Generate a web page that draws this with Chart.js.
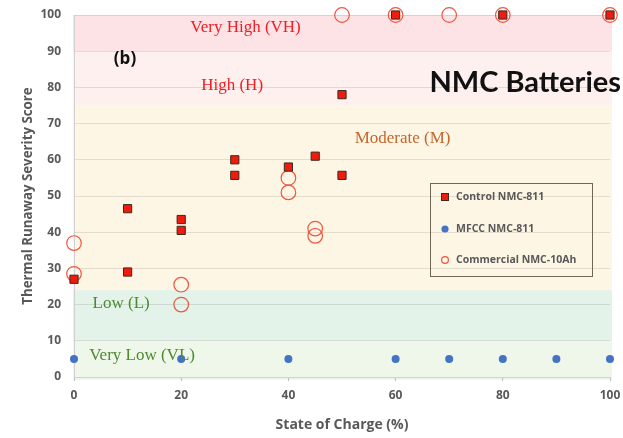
<!DOCTYPE html>
<html>
<head>
<meta charset="utf-8">
<script src="https://cdn.jsdelivr.net/npm/chart.js@4.4.0/dist/chart.umd.min.js"></script>
<style>
  html, body { margin: 0; padding: 0; background: #fff; }
  #wrap { width: 623px; height: 438px; position: relative; }
</style>
</head>
<body>
<div id="wrap"><canvas id="myChart" width="623" height="438"></canvas></div>
<script>
// data
const controlSoc   = [0, 10, 10, 20, 20, 30, 30, 40, 45, 50, 50, 60, 80, 100];
const controlScore = [27, 29, 46.5, 43.5, 40.5, 60, 55.7, 58, 61, 78, 55.7, 100, 100, 100];

const mfccSoc   = [0, 20, 40, 60, 70, 80, 90, 100];
const mfccScore = [5, 5, 5, 5, 5, 5, 5, 5];

const commSoc   = [0, 0, 20, 20, 40, 40, 45, 45, 50, 60, 70, 80, 100];
const commScore = [37, 28.5, 25.5, 20, 55, 51, 41, 39, 100, 100, 100, 100, 100];

const xTicks = [0, 20, 40, 60, 80, 100];
const yTicks = [0, 10, 20, 30, 40, 50, 60, 70, 80, 90, 100];

// severity bands: [from, to, fill, label, label color, label x (SOC), label y (score)]
const bands = [
  [90, 100, '#fde3e5', 'Very High (VH)', '#f21c24', 32, 96.5],
  [75, 90, '#fdf0ee', 'High (H)', '#f21c24', 29.5, 80.5],
  [24, 75, '#fef6e5', 'Moderate (M)', '#c4662c', 61.3, 66],
  [10, 24, '#e3f3e9', 'Low (L)', '#4e8a2f', 8.8, 20.3],
  [-1, 10, '#eef7ea', 'Very Low (VL)', '#4e8a2f', 12.7, 5.9]
];

const pts = (xs, ys) => xs.map((x, i) => ({ x: x, y: ys[i] }));

const bandPlugin = {
  id: 'bands',
  beforeDraw(chart) {
    const { ctx, chartArea, scales } = chart;
    ctx.save();
    bands.forEach(b => {
      const top = scales.y.getPixelForValue(b[1]);
      const bot = scales.y.getPixelForValue(Math.max(b[0], -0.8));
      ctx.fillStyle = b[2];
      ctx.fillRect(chartArea.left - 1, top, chartArea.right - chartArea.left + 3, bot - top);
    });
    ctx.restore();
  },
  afterDatasetsDraw(chart) {
    const { ctx, scales } = chart;
    ctx.save();
    ctx.textAlign = 'center';
    ctx.textBaseline = 'middle';
    ctx.font = '17px "Liberation Serif"';
    bands.forEach(b => {
      ctx.fillStyle = b[4];
      ctx.fillText(b[3], scales.x.getPixelForValue(b[5]), scales.y.getPixelForValue(b[6]));
    });
    // panel letter and title
    ctx.fillStyle = '#111';
    ctx.font = 'bold 17px "Open Sans"';
    ctx.fillText('(b)', 125, 59);
    ctx.font = 'bold 29px "Lato"';
    ctx.textAlign = 'right';
    ctx.fillText('NMC Batteries', 621, 83);

    // legend box
    ctx.strokeStyle = '#6e6658';
    ctx.lineWidth = 1;
    ctx.strokeRect(430.5, 183.5, 162, 93);
    ctx.font = 'bold 10.5px "Open Sans"';
    ctx.textAlign = 'left';
    ctx.fillStyle = '#595959';
    const rows = [197, 229, 260];
    const names = chart.data.datasets.map(d => d.label);
    names.forEach((n, i) => ctx.fillText(n, 456, rows[i]));
    // markers
    ctx.fillStyle = '#f01b0c';
    ctx.strokeStyle = '#3a2a22';
    ctx.fillRect(441.5, 193.5, 7, 7);
    ctx.strokeRect(441.5, 193.5, 7, 7);
    ctx.fillStyle = '#4472c4';
    ctx.beginPath(); ctx.arc(445, 229, 3.6, 0, Math.PI * 2); ctx.fill();
    ctx.strokeStyle = '#f0553f';
    ctx.lineWidth = 1.2;
    ctx.beginPath(); ctx.arc(445, 260, 3.4, 0, Math.PI * 2); ctx.stroke();
    ctx.restore();
  }
};

const ctx = document.getElementById('myChart').getContext('2d');
new Chart(ctx, {
  type: 'scatter',
  data: {
    datasets: [
      {
        label: 'Control NMC-811',
        data: pts(controlSoc, controlScore),
        pointStyle: 'rect',
        pointRadius: 5.8,
        backgroundColor: '#f01b0c',
        borderColor: '#3a2a22',
        borderWidth: 1,
        order: 1,
        clip: false
      },
      {
        label: 'MFCC NMC-811',
        data: pts(mfccSoc, mfccScore),
        pointRadius: 4,
        backgroundColor: '#4472c4',
        borderColor: '#4472c4',
        borderWidth: 0,
        order: 2,
        clip: false
      },
      {
        label: 'Commercial NMC-10Ah',
        data: pts(commSoc, commScore),
        pointRadius: 7.3,
        backgroundColor: 'rgba(0,0,0,0)',
        borderColor: '#f0553f',
        borderWidth: 1.2,
        order: 3,
        clip: false
      }
    ]
  },
  options: {
    responsive: false,
    animation: false,
    layout: { autoPadding: false, padding: { left: 20, right: 13, top: 15, bottom: 0 } },
    plugins: {
      legend: { display: false },
      tooltip: { enabled: false }
    },
    scales: {
      x: {
        type: 'linear',
        min: 0,
        max: 100,
        afterBuildTicks: s => { s.ticks = xTicks.map(v => ({ value: v })); },
        afterFit: s => { s.height = 61; s.paddingLeft = 0; s.paddingRight = 0; },
        grid: { display: true, drawOnChartArea: false, tickLength: 4, color: '#bfbfbf' },
        border: { display: true, color: '#d0d0d0' },
        ticks: { padding: 7, color: '#595959', font: { family: 'Open Sans', weight: 'bold', size: 12 } },
        title: {
          display: true,
          text: 'State of Charge (%)',
          color: '#595959',
          padding: { top: 0, bottom: 5 },
          font: { family: 'Open Sans', weight: 'bold', size: 14 }
        }
      },
      y: {
        min: 0,
        max: 100,
        afterBuildTicks: s => { s.ticks = yTicks.map(v => ({ value: v })); },
        afterFit: s => { s.width = 54; s.paddingTop = 0; s.paddingBottom = 0; },
        grid: { color: 'rgba(0,0,0,0.1)', drawTicks: false },
        border: { display: true, color: '#d0d0d0' },
        ticks: { padding: 13, color: '#595959', font: { family: 'Open Sans', weight: 'bold', size: 12 } },
        title: {
          display: true,
          text: 'Thermal Runaway Severity Score',
          color: '#595959',
          padding: { top: 0, bottom: 0 },
          font: { family: 'Open Sans', weight: 'bold', size: 13.3 }
        }
      }
    }
  },
  plugins: [bandPlugin]
});
</script>
</body>
</html>
